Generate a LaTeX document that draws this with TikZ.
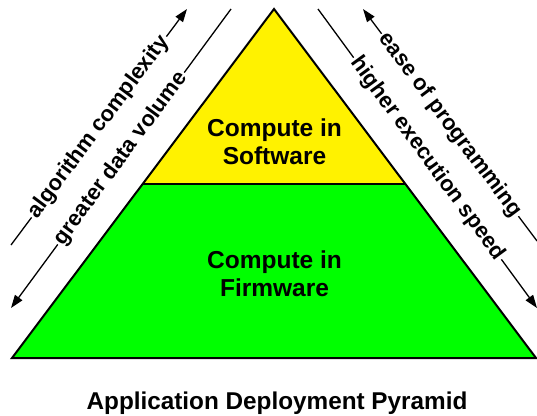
\documentclass[tikz,border=0pt]{standalone}
\usepackage{fontspec}
\setmainfont{Liberation Sans}
\usetikzlibrary{arrows.meta}
\begin{document}
\begin{tikzpicture}[x=1pt,y=-1pt,
  lbl/.style={font=\bfseries\fontsize{24.5}{28}\selectfont, align=center, inner sep=0pt},
  side/.style={font=\bfseries\fontsize{22}{24}\selectfont, fill=white, inner sep=2pt, sloped, pos=0.5},
  arr/.style={line width=1.3pt},
  tipend/.style={-{Triangle[length=13pt,width=9pt]}},
  tipstart/.style={{Triangle[length=13pt,width=9pt]}-}]
\useasboundingbox (0,0) rectangle (537,415);
\coordinate (apex) at (274,9);
\coordinate (bl) at (12,358);
\coordinate (br) at (536,358);
\coordinate (ml) at (143,184);
\coordinate (mr) at (405,184);
\fill[yellow] (apex) -- (ml) -- (mr) -- cycle;
\fill[green] (ml) -- (bl) -- (br) -- (mr) -- cycle;
\draw[line width=2pt, line join=miter] (apex) -- (bl) -- (br) -- cycle;
\draw[line width=2pt] (ml) -- (mr);
\node[lbl] (sw) at (274.5,142) {Compute in\\Software};
\node[lbl] (fw) at (274.5,274) {Compute in\\Firmware};
% left arrows
\coordinate (lo1) at (11,245);
\coordinate (lo2) at (187,9);
\coordinate (li1) at (231,9);
\coordinate (li2) at (11,308);
\draw[arr,tipend] (lo1) -- node[side] (alg) {algorithm complexity} (lo2);
\draw[arr,tipend] (li1) -- node[side] (gdv) {greater data volume} (li2);
% right arrows
\coordinate (ro1) at (363,9);
\coordinate (ro2) at (537,241);
\coordinate (ri1) at (318,9);
\coordinate (ri2) at (537,308);
\draw[arr,tipstart] (ro1) -- node[side] (eop) {ease of programming} (ro2);
\draw[arr,tipend] (ri1) -- node[side] (hes) {higher execution speed} (ri2);
\node[font=\bfseries\fontsize{24.3}{28}\selectfont, anchor=base, inner sep=0pt] (title) at (277,409) {Application Deployment Pyramid};
\end{tikzpicture}
\end{document}
